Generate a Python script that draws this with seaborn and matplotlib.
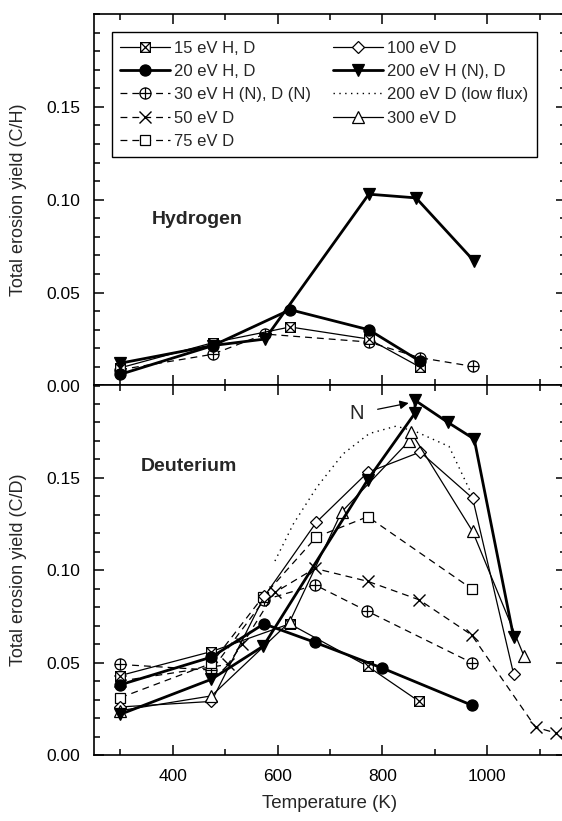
import numpy as np
import pandas as pd
import matplotlib
matplotlib.use("Agg")
import matplotlib.pyplot as plt
from matplotlib.path import Path
from matplotlib.ticker import MultipleLocator
import seaborn as sns

# ---------------- data ----------------
# Hydrogen panel
h15_T = [300, 476, 624, 774, 871]
h15_Y = [0.0095, 0.0230, 0.0315, 0.0250, 0.0100]
h20_T = [300, 476, 624, 774, 871]
h20_Y = [0.0060, 0.0214, 0.0408, 0.0300, 0.0132]
h30_T = [300, 476, 576, 774, 871, 972]
h30_Y = [0.0085, 0.0168, 0.0277, 0.0234, 0.0150, 0.0103]
h200_T = [300, 476, 576, 774, 864, 974]
h200_Y = [0.0120, 0.0215, 0.0250, 0.1030, 0.1010, 0.0672]

# Deuterium panel
d15_T = [300, 474, 623, 772, 870]
d15_Y = [0.043, 0.056, 0.071, 0.048, 0.029]
d20_T = [300, 474, 574, 671, 800, 970]
d20_Y = [0.038, 0.053, 0.071, 0.061, 0.047, 0.027]
d30_T = [300, 474, 575, 672, 770, 970]
d30_Y = [0.049, 0.046, 0.084, 0.092, 0.078, 0.050]
d50_T = [300, 505, 533, 595, 671, 772, 870, 970, 1092, 1130]
d50_Y = [0.040, 0.049, 0.060, 0.088, 0.101, 0.094, 0.084, 0.065, 0.015, 0.012]
d75_T = [300, 474, 572, 674, 772, 970]
d75_Y = [0.031, 0.0496, 0.0856, 0.118, 0.129, 0.090]
d100_T = [300, 474, 575, 674, 772, 872, 972, 1050]
d100_Y = [0.026, 0.029, 0.086, 0.126, 0.153, 0.164, 0.139, 0.044]
d200_T = [300, 474, 573, 772, 862, 862, 925, 975, 1050]
d200_Y = [0.022, 0.041, 0.059, 0.149, 0.185, 0.192, 0.180, 0.171, 0.064]
d200lf_T = [595, 630, 675, 725, 775, 826, 864, 927, 972]
d200lf_Y = [0.105, 0.125, 0.145, 0.163, 0.174, 0.178, 0.175, 0.167, 0.140]
d300_T = [300, 474, 623, 722, 851, 854, 972, 1070]
d300_Y = [0.024, 0.032, 0.072, 0.1315, 0.170, 0.175, 0.121, 0.0535]

labels = ["15 eV H, D", "20 eV H, D", "30 eV H (N), D (N)", "50 eV D", "75 eV D",
          "100 eV D", "200 eV H (N), D", "200 eV D (low flux)", "300 eV D"]

# ---------------- markers ----------------
boxx = Path([(-1, -1), (1, -1), (1, 1), (-1, 1), (-1, -1), (-1, -1), (1, 1), (-1, 1), (1, -1)],
            [Path.MOVETO, Path.LINETO, Path.LINETO, Path.LINETO, Path.CLOSEPOLY,
             Path.MOVETO, Path.LINETO, Path.MOVETO, Path.LINETO])
circ = Path.unit_circle()
plus = Path([(-1, 0), (1, 0), (0, -1), (0, 1)],
            [Path.MOVETO, Path.LINETO, Path.MOVETO, Path.LINETO])
oplus = Path.make_compound_path(circ, plus)

THIN, THICK = 0.9, 2.0
dash = (5.5, 4.0)
styles = {
    "15": dict(marker=boxx, ms=7, mfc="white", lw=THIN, ls="-"),
    "20": dict(marker="o", ms=8, mfc="black", lw=THICK, ls="-"),
    "30": dict(marker=oplus, ms=8, mfc="white", lw=THIN, dashes=dash),
    "50": dict(marker="x", ms=8, mfc="white", lw=THIN, dashes=dash, mew=1.0),
    "75": dict(marker="s", ms=7, mfc="white", lw=THIN, dashes=dash),
    "100": dict(marker="D", ms=6.5, mfc="white", lw=THIN, ls="-"),
    "200": dict(marker="v", ms=9, mfc="black", lw=THICK, ls="-"),
    "lf": dict(marker=None, lw=1.0, dashes=(1, 3.2)),
    "300": dict(marker="^", ms=8.5, mfc="white", lw=THIN, ls="-"),
}

sns.set_theme(style="ticks")
plt.rcParams["font.family"] = ["Liberation Sans", "DejaVu Sans"]
plt.rcParams["axes.linewidth"] = 1.2

fig = plt.figure(figsize=(5.62, 8.21), dpi=100)
L, R = 94 / 562, 566 / 562
ax1 = fig.add_axes([L, 1 - 385.5 / 821, R - L, (385.5 - 14) / 821])
ax2 = fig.add_axes([L, 1 - 755 / 821, R - L, (755 - 385.5) / 821])


def draw(ax, T, Y, key, label=None):
    df = pd.DataFrame({"T": T, "Y": Y})
    st = dict(styles[key])
    kw = dict(color="black", mec="black", mew=st.pop("mew", 0.9))
    kw.update(st)
    if label is not None:
        kw["label"] = label
    sns.lineplot(data=df, x="T", y="Y", ax=ax, estimator=None, sort=False, **kw)


draw(ax1, h30_T, h30_Y, "30")
draw(ax1, h15_T, h15_Y, "15")
draw(ax1, h20_T, h20_Y, "20")
draw(ax1, h200_T, h200_Y, "200")

draw(ax2, d200lf_T, d200lf_Y, "lf", labels[7])
draw(ax2, d30_T, d30_Y, "30", labels[2])
draw(ax2, d50_T, d50_Y, "50", labels[3])
draw(ax2, d75_T, d75_Y, "75", labels[4])
draw(ax2, d15_T, d15_Y, "15", labels[0])
draw(ax2, d20_T, d20_Y, "20", labels[1])
draw(ax2, d100_T, d100_Y, "100", labels[5])
draw(ax2, d300_T, d300_Y, "300", labels[8])
draw(ax2, d200_T, d200_Y, "200", labels[6])

handles, labs = ax2.get_legend_handles_labels()
hmap = dict(zip(labs, handles))
if ax2.get_legend() is not None:
    ax2.get_legend().remove()
if ax1.get_legend() is not None:
    ax1.get_legend().remove()

leg = ax1.legend([hmap[l] for l in labels], labels, ncol=2, loc="upper left",
                 bbox_to_anchor=(0.0375, 0.951), borderaxespad=0, frameon=True,
                 fancybox=False, edgecolor="black", framealpha=1,
                 fontsize=12, handlelength=3.0, handletextpad=0.25,
                 labelspacing=0.5, columnspacing=1.3, borderpad=0.5)
leg.get_frame().set_linewidth(1.0)

for ax in (ax1, ax2):
    ax.set_xlim(250, 1150)
    ax.set_ylim(0, 0.20)
    ax.xaxis.set_major_locator(MultipleLocator(200))
    ax.xaxis.set_minor_locator(MultipleLocator(100))
    ax.set_yticks([0.0, 0.05, 0.10, 0.15])
    ax.yaxis.set_minor_locator(MultipleLocator(0.01))
    ax.tick_params(which="both", direction="in", top=True, right=True,
                   color="black", width=1.1, labelsize=12.5, labelcolor="black")
    ax.tick_params(which="major", length=7, pad=10)
    ax.tick_params(which="minor", length=4)
    ax.yaxis.set_major_formatter(matplotlib.ticker.FormatStrFormatter("%.2f"))
    for s in ax.spines.values():
        s.set_color("black")

ax1.tick_params(labelbottom=False)
ax1.set_xlabel("")
ax1.set_ylabel("Total erosion yield (C/H)", fontsize=13, labelpad=14)
ax2.set_ylabel("Total erosion yield (C/D)", fontsize=13, labelpad=14)
ax2.set_xlabel("Temperature (K)", fontsize=13.5, labelpad=8)

ax1.text(360, 0.0894, "Hydrogen", fontsize=14, fontweight="bold", va="center", ha="left")
ax2.text(340, 0.156, "Deuterium", fontsize=14, fontweight="bold", va="center", ha="left")
ax2.annotate("N", xy=(850, 0.1905), xytext=(750, 0.1848), fontsize=14.5,
             ha="center", va="center",
             arrowprops=dict(arrowstyle="-|>", color="black", lw=0.9,
                             mutation_scale=13, shrinkA=8, shrinkB=0))

fig.savefig("out.png", dpi=100)
